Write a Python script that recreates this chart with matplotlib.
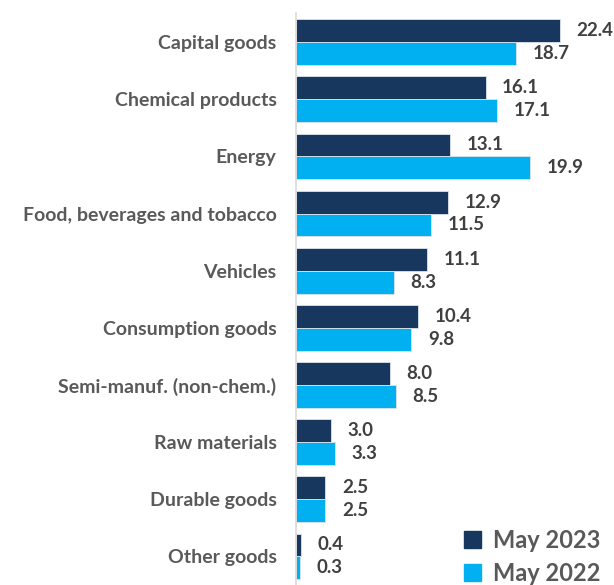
import numpy as np
import matplotlib
matplotlib.use('agg')
import matplotlib.pyplot as plt
from matplotlib.patches import Patch

categories = ["Capital goods", "Chemical products", "Energy", "Food, beverages and tobacco",
              "Vehicles", "Consumption goods", "Semi-manuf. (non-chem.)", "Raw materials",
              "Durable goods", "Other goods"]
may_2023 = [22.4, 16.1, 13.1, 12.9, 11.1, 10.4, 8.0, 3.0, 2.5, 0.4]
may_2022 = [18.7, 17.1, 19.9, 11.5, 8.3, 9.8, 8.5, 3.3, 2.5, 0.3]
series_names = ["May 2023", "May 2022"]

navy = '#17375E'
cyan = '#00B0F0'
label_col = '#595959'
value_col = '#404040'

plt.rcParams['font.family'] = ['Lato', 'DejaVu Sans']

fig = plt.figure(figsize=(6.14, 5.85), dpi=100)
ax = fig.add_axes([296/614, 0.0, 1 - 296/614, 1 - 13.5/585])

y = np.arange(len(categories))
h = 0.4
ax.barh(y - h/2, may_2023, height=h, color=navy, edgecolor='#dde3ea', linewidth=0.6)
ax.barh(y + h/2, may_2022, height=h, color=cyan, edgecolor='#dde3ea', linewidth=0.6)

for i in range(len(categories)):
    ax.text(may_2023[i] + 1.4, y[i] - h/2, f"{may_2023[i]:.1f}", ha='left', va='center',
            fontsize=13.5, fontweight='bold', color=value_col)
    ax.text(may_2022[i] + 1.4, y[i] + h/2, f"{may_2022[i]:.1f}", ha='left', va='center',
            fontsize=13.5, fontweight='bold', color=value_col)

ax.set_xlim(0, 27)
ax.set_ylim(len(categories) - 0.5, -0.5)
ax.set_yticks(y)
ax.set_yticklabels(categories, fontsize=14, fontweight='bold', color=label_col)
ax.tick_params(axis='y', length=0, pad=14)
ax.set_xticks([])
for s in ['top', 'right', 'bottom']:
    ax.spines[s].set_visible(False)
ax.spines['left'].set_color('#d9d9d9')
ax.spines['left'].set_linewidth(1.2)

handles = [Patch(color=navy), Patch(color=cyan)]
leg = fig.legend(handles, series_names, loc='lower right', bbox_to_anchor=(1.013, -0.036),
                 frameon=False, fontsize=17, handlelength=0.75, handleheight=0.75,
                 handletextpad=0.5, labelspacing=0.42)
for t in leg.get_texts():
    t.set_fontweight('bold')
    t.set_color(label_col)

fig.savefig('out.png', dpi=100)
